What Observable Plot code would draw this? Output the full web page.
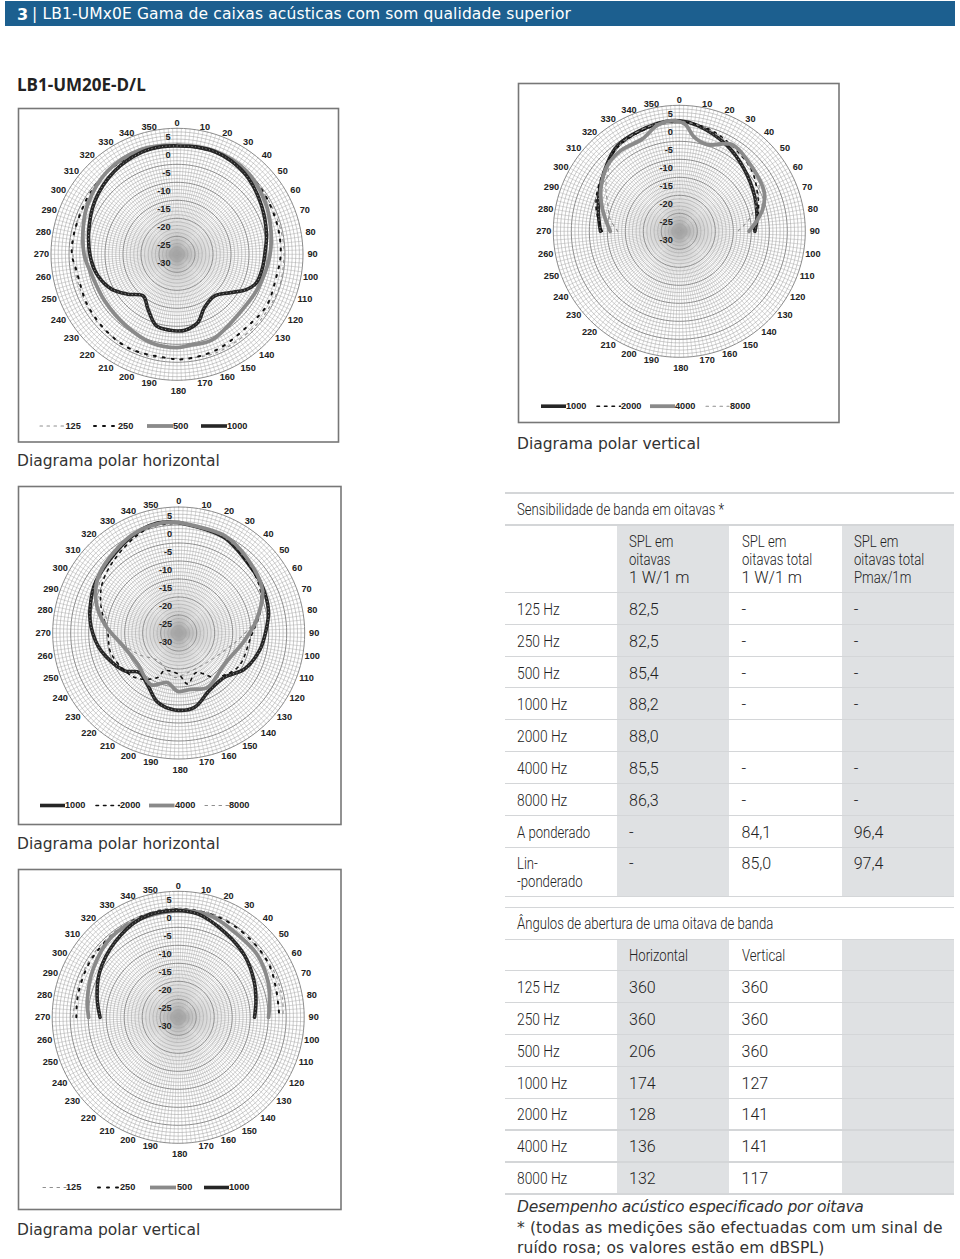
<!DOCTYPE html>
<html lang="pt"><head><meta charset="utf-8">
<script src="https://cdn.jsdelivr.net/npm/d3@7"></script>
<script src="https://cdn.jsdelivr.net/npm/@observablehq/plot@0.6"></script>
<style>
html,body{margin:0;padding:0;background:#fff}
#page{position:relative;width:960px;height:1259px;overflow:hidden}
#page svg{position:absolute;display:block;background:transparent}
.t{position:absolute;white-space:nowrap;transform:translateY(-50%);line-height:1}
.cell{font:300 16px "Roboto",sans-serif;color:#222}
.w{transform:translateY(-50%) scaleX(.82);transform-origin:left center}
.hz{transform:translateY(-50%) scaleX(.86);transform-origin:left center}
.cap{font:15.5px "DejaVu Sans",sans-serif;color:#333;letter-spacing:0}
.note{font:15.5px "DejaVu Sans",sans-serif;color:#333;letter-spacing:.12px}
.bg{position:absolute;background:#dfe1e3}
.ln{position:absolute;left:505px;width:449px;height:1.6px;background:#d4d6d8}
</style></head><body><div id="page"></div>
<script>
// ---- polar readings: [angle in degrees, level in dB] ----
const h1_125=[[0,.3],[20,.3],[40,0],[65,-.5],[83,-.3],[95,-.3],[110,-.2],[130,-.5],[147,-.7],[161,-.6],[178,-1.1],[196,-.6],[211,-.8],[230,-.9],[251,-1.4],[270,-1.1],[281,-1],[292,-.7],[303,-1.1],[320,.2],[340,.4]];
const h1_250=[[0,.2],[20,.3],[40,-.1],[56,-.5],[75,-1],[90,-1.2],[103,-1.7],[120,-1.3],[135,-2],[157,-1.3],[176,-.8],[187,-1.1],[206,-.7],[221,-1],[240,-1.4],[261,-1.7],[270,-.8],[281,-.8],[296,-.8],[305,-.5],[320,0],[340,.3]];
const h1_500=[[0,.4],[20,.5],[40,.1],[59,-1.5],[76,-3.1],[92,-4.3],[112,-5.6],[131,-6.2],[158,-4.3],[171,-4.5],[180,-4.1],[196,-4.4],[215,-5.6],[237,-6.1],[257,-5.6],[270,-4.2],[286,-2.9],[299,-1.6],[320,.1],[341,.8]];
const h1_1000=[[0,.1],[10,.3],[20,.4],[30,0],[43,-1],[60,-2.9],[77,-4.5],[90,-5.6],[100,-6],[110,-6.6],[117,-8.4],[125,-11.5],[138,-14.4],[153,-13.3],[163,-10.2],[174,-8.8],[180,-8.7],[185,-8.8],[196,-9.3],[208,-12.8],[219,-15.1],[231,-12.4],[242,-9.4],[255,-7.2],[266,-6.1],[283,-4.8],[303,-2.8],[323,-1.1],[341,0],[352,.2]];
const v1_1000=[[270,-8.1],[285,-6.7],[302,-4.4],[324,-.7],[349,.6],[0,.7],[10,-.2],[29,-2.7],[46,-5],[65,-6.9],[79,-8],[90,-9]];
const v1_2000=[[270,-8.6],[285,-6.1],[300,-4.2],[324,-1],[349,.3],[0,.5],[13,-.2],[26,-1.5],[49,-3.6],[65,-6],[78,-7.6],[90,-9.5]];
const v1_4000=[[270,-10.8],[286,-7.8],[298,-5.3],[312,-3],[324,-2.3],[338,-2.4],[348,0],[356,.8],[3,-.2],[9,-3.5],[18,-4.7],[31,-1.8],[44,-2.7],[65,-4],[75,-6],[83,-8.5],[90,-10.6]];
const v1_8000=[[270,-12.9],[280,-10.5],[290,-8.9],[304,-5.5],[325,-1],[350,.6],[10,0],[30,-2],[45,-2.6],[60,-4.4],[78,-9.6],[90,-13.8]];
const h2_1000=[[0,.7],[25,-.6],[48,-2.9],[61,-3.4],[76,-4.3],[88,-5.7],[102,-7],[119,-9.2],[134,-12.3],[152,-11.9],[168,-8.9],[183,-8.6],[197,-9.9],[210,-13],[225,-14.5],[235,-11.7],[257,-7.9],[274,-5.6],[286,-4.4],[302,-2.9],[333,-.3],[349,1.1]];
const h2_2000=[[0,.5],[25,-.4],[43,-2.6],[60,-4.1],[75,-6.5],[93,-9.9],[120,-11],[141,-14.2],[156,-18],[170,-15.6],[180,-18.5],[201,-18.8],[205,-16.4],[225,-12.6],[253,-10.4],[270,-10.3],[290,-7],[305,-4.4],[327,-1.9],[345,.4]];
const h2_4000=[[0,.7],[25,-.1],[43,-1.9],[63,-3.9],[81,-8.2],[97,-11.7],[124,-14.6],[152,-12.9],[168,-14],[181,-13.8],[193,-15.9],[208,-13.7],[233,-15.7],[255,-14.4],[277,-9.2],[291,-5.4],[307,-2.5],[334,.1],[349,.9]];
const h2_8000=[[0,.5],[25,-.3],[43,-2],[63,-3.9],[76,-6.9],[94,-12.7],[111,-16.4],[140,-18.8],[172,-18.5],[186,-17.6],[217,-20.4],[243,-17.2],[272,-10.3],[282,-9.4],[297,-5],[320,-1],[345,.6]];
const v2_125=[[270,-.7],[290,-.9],[308,-.6],[330,-.2],[350,.3],[5,.3],[25,.3],[44,-.6],[65,-.5],[80,-.6],[90,-.9]];
const v2_250=[[270,-1.7],[282,-1.5],[300,-1.1],[318,-.8],[340,-.2],[0,0],[20,0],[39,-.4],[59,-.8],[74,-1.7],[90,-1.9]];
const v2_500=[[270,-5.1],[281,-4.3],[300,-2.8],[320,-1],[341,-.7],[3,-.3],[18,-.4],[38,-1.8],[52,-2],[69,-3.2],[81,-4.3],[90,-4.9]];
const v2_1000=[[270,-8.3],[283,-6.9],[300,-4.8],[320,-2.7],[339,-.7],[356,-.3],[11,-.8],[29,-3.1],[47,-4.8],[65,-6.7],[79,-8],[90,-8.8]];
// ---- tick labels and table text ----
const dbTicks=[5,0,-5,-10,-15,-20,-25,-30];
const angleTicks=d3.range(0,360,10);
const rowsA=["125 Hz","250 Hz","500 Hz","1000 Hz","2000 Hz","4000 Hz","8000 Hz","A ponderado"];
const splOct=["82,5","82,5","85,4","88,2","88,0","85,5","86,3","-"];
const splTot=["-","-","-","-","","-","-","84,1"];
const splMax=["-","-","-","-","","-","-","96,4"];
const rowsB=rowsA.slice(0,7);
const apertH=["360","360","206","174","128","136","132"];
const apertV=["360","360","360","127","141","141","117"];

const bandStyle={
 125:{stroke:"#8f8f8f",strokeWidth:1.1,strokeDasharray:"2.5,4.5"},
 250:{stroke:"#111",strokeWidth:2,strokeDasharray:"2,7"},
 500:{stroke:"#8a8a8a",strokeWidth:3.8},
 1000:{stroke:"#262626",strokeWidth:3.6,texture:true},
 2000:{stroke:"#111",strokeWidth:1.6,strokeDasharray:"2.5,5"},
 4000:{stroke:"#8a8a8a",strokeWidth:3.8},
 8000:{stroke:"#8f8f8f",strokeWidth:1.1,strokeDasharray:"2.5,4.5"}
};
const PX=3.6; // pixels per dB of radius
const rad=d=>d*Math.PI/180;
const toXY=([a,db])=>({x:(db+30)*Math.sin(rad(a)),y:(db+30)*Math.cos(rad(a))});
const page=document.getElementById("page");
const lab={fontSize:9.2,fontWeight:"bold",fontFamily:"Liberation Sans",fill:"#222"};

function panel({box,c,series,legend,legendY,closed}){
 const pad=2,[l,t,w,h]=box,W=w+2*pad,H=h+2*pad;
 const ox=c[0]-l+pad, oy=c[1]-t+pad;
 const ux=px=>(px-c[0])/PX, uy=py=>(c[1]-py)/PX;
 const circle=db=>d3.range(0,363,3).map(a=>({...toXY([a,db]),db}));
 const fine=d3.range(-29,5).filter(d=>(d+30)%5).flatMap(circle);
 const major=d3.range(-25,10,5).flatMap(circle);
 const spokes=d3.range(0,360,2).flatMap(a=>[{a,x:0,y:0},{a,...toXY([a,5])}]);
 const angLab=angleTicks.map(a=>{
  const s=Math.sin(rad(a)),co=Math.cos(rad(a));
  let dx=135.5*s+Math.sign(Math.round(s*1e6))*4.5*co*co;
  let dy=a===0?131.5:a===180?-137:co>0?129.5*co:131*co;
  if(a===180)dx=1.5;
  return {a,x:dx/PX,y:dy/PX};
 });
 const marks=[
  Plot.frame({stroke:"#777",strokeWidth:1.6,inset:pad}),
  Plot.line(spokes,{x:"x",y:"y",z:"a",stroke:"#a0a0a0",strokeWidth:.42}),
  Plot.line(fine,{x:"x",y:"y",z:"db",stroke:"#a0a0a0",strokeWidth:.55}),
  Plot.line(major,{x:"x",y:"y",z:"db",stroke:"#8c8c8c",strokeWidth:1}),
  Plot.dot([{x:0,y:0}],{x:"x",y:"y",r:8,fill:"#aaa",fillOpacity:.55,stroke:"none"})
 ];
 for(const [band,vals] of series){
  const pts=(closed?[...vals,vals[0]]:vals).map(toXY);
  const {texture,...st}=bandStyle[band];
  marks.push(Plot.line(pts,{x:"x",y:"y",curve:"catmull-rom",...st}));
  if(texture)marks.push(Plot.line(pts,{x:"x",y:"y",curve:"catmull-rom",stroke:"#999",strokeWidth:1,strokeDasharray:"1,2.6",strokeLinecap:"butt"}));
 }
 marks.push(
  Plot.text(dbTicks,{x:()=>ux(c[0]-6.5),y:d=>d+30,dy:9,text:d=>String(d),textAnchor:"end",...lab}),
  Plot.text(angLab,{x:"x",y:"y",text:d=>String(d.a),...lab})
 );
 for(const [band,x0,x1,tx] of legend){
  const {texture,...st}=bandStyle[band];
  marks.push(Plot.line([{x:ux(x0),y:uy(legendY)},{x:ux(x1),y:uy(legendY)}],{x:"x",y:"y",...st,strokeLinecap:st.strokeDasharray?"round":"butt"}));
  marks.push(Plot.text([String(band)],{x:()=>ux(tx),y:()=>uy(legendY),text:d=>d,textAnchor:"start",...lab}));
 }
 const svg=Plot.plot({width:W,height:H,margin:0,
  x:{domain:[-ox/PX,(W-ox)/PX],range:[0,W],axis:null},
  y:{domain:[oy/PX,-(H-oy)/PX],range:[0,H],axis:null},marks});
 svg.style.left=(l-pad)+"px";svg.style.top=(t-pad)+"px";
 page.appendChild(svg);
}
panel({box:[17.5,107.5,320,333.5],c:[176,253.3],closed:true,legendY:425,
 series:[[125,h1_125],[250,h1_250],[500,h1_500],[1000,h1_1000]],
 legend:[[125,39,64,64.5],[250,93,116.5,117],[500,146,172,172],[1000,200,226,226]]});
panel({box:[517.5,83,320.5,339],c:[678.3,230.8],legendY:405.7,
 series:[[1000,v1_1000],[2000,v1_2000],[4000,v1_4000],[8000,v1_8000]],
 legend:[[1000,540,565,565],[2000,596,619.5,620],[4000,649,674,674],[8000,705,728,729]]});
panel({box:[17.5,486,322.5,338],c:[177.7,632.5],closed:true,legendY:805,
 series:[[1000,h2_1000],[2000,h2_2000],[8000,h2_8000],[4000,h2_4000]],
 legend:[[1000,39,64,64],[2000,95,118.5,119],[4000,148,173.5,174],[8000,204,227.5,228]]});
panel({box:[17.5,869,322.5,340],c:[177.2,1016.8],legendY:1187,
 series:[[125,v2_125],[250,v2_250],[500,v2_500],[1000,v2_1000]],
 legend:[[125,42,65,65],[250,97,118.5,119],[500,149,175,176],[1000,203,228,228]]});

// ---- page text and tables ----
function txt(x,y,s,cls,css){const d=document.createElement("div");d.className="t "+cls;d.style.left=x+"px";d.style.top=y+"px";d.textContent=s;if(css)d.style.cssText+=css;page.appendChild(d);return d;}
function box(cls,x,y,w,h,c){const d=document.createElement("div");d.className=cls;d.style.cssText+=`left:${x}px;top:${y}px;width:${w}px;height:${h}px;`+(c?`background:${c};`:"");page.appendChild(d);}
box("",5,1,950,25,"#1c5f8f");page.lastChild.style.position="absolute";
txt(17,14,"3","", 'font:bold 16px "DejaVu Sans",sans-serif;color:#fff');
txt(32,14,"| LB1-UMx0E Gama de caixas acústicas com som qualidade superior","",'font:15.5px "DejaVu Sans",sans-serif;color:#fff;letter-spacing:.13px');
txt(17,84,"LB1-UM20E-D/L","",'font:bold 17px "Open Sans",sans-serif;color:#222');
txt(17,460.7,"Diagrama polar horizontal","cap");
txt(517,444,"Diagrama polar vertical","cap");
txt(17,844.3,"Diagrama polar horizontal","cap");
txt(17,1230,"Diagrama polar vertical","cap");
const COL=[517,629,741.5,853.7];
// table 1
box("bg",616.7,525,112.3,371.7);box("bg",841.7,525,112.3,371.7);
[493,525,592.5,624.5,656.5,687.7,719.7,751.7,783.3,815.7,847.3,896.7].forEach(y=>box("ln",505,y-.8,449,1.6));
txt(COL[0],509.3,"Sensibilidade de banda em oitavas *","cell w");
[["SPL em","oitavas","1 W/1 m"],["SPL em","oitavas total","1 W/1 m"],["SPL em","oitavas total","Pmax/1m"]].forEach((ls,i)=>ls.forEach((s,j)=>txt(COL[i+1],541+18*j,s,s==="1 W/1 m"?"cell":"cell w")));
const rowY1=[609,640.7,672.5,704,736,767.7,799.5,831.5];
rowsA.forEach((r,i)=>{txt(COL[0],rowY1[i],r,i===7?"cell w":"cell hz");txt(COL[1],rowY1[i],splOct[i],"cell");txt(COL[2],rowY1[i],splTot[i],"cell");txt(COL[3],rowY1[i],splMax[i],"cell");});
txt(COL[0],863,"Lin-","cell w");txt(COL[0],881,"-ponderado","cell w");
txt(COL[1],863,"-","cell");txt(COL[2],863,"85,0","cell");txt(COL[3],863,"97,4","cell");
// table 2
box("bg",616.7,939.3,112.3,254.7);box("bg",841.7,939.3,112.3,254.7);
[907.3,939.3,970.7,1002.7,1034.7,1066.7,1098.7,1130,1162,1194].forEach(y=>box("ln",505,y-.8,449,1.6));
txt(COL[0],923.3,"Ângulos de abertura de uma oitava de banda","cell w");
txt(COL[1],955,"Horizontal","cell w");txt(COL[2],955,"Vertical","cell w");
const rowY2=[986.7,1018.7,1050.7,1082.7,1114.3,1146,1177.7];
rowsB.forEach((r,i)=>{txt(COL[0],rowY2[i],r,"cell hz");txt(COL[1],rowY2[i],apertH[i],"cell");txt(COL[2],rowY2[i],apertV[i],"cell");});
txt(517,1207.3,"Desempenho acústico especificado por oitava","note","font-style:italic;letter-spacing:-.25px");
txt(517,1228,"* (todas as medições são efectuadas com um sinal de","note");
txt(517,1248.3,"ruído rosa; os valores estão em dBSPL)","note");
</script></body></html>
